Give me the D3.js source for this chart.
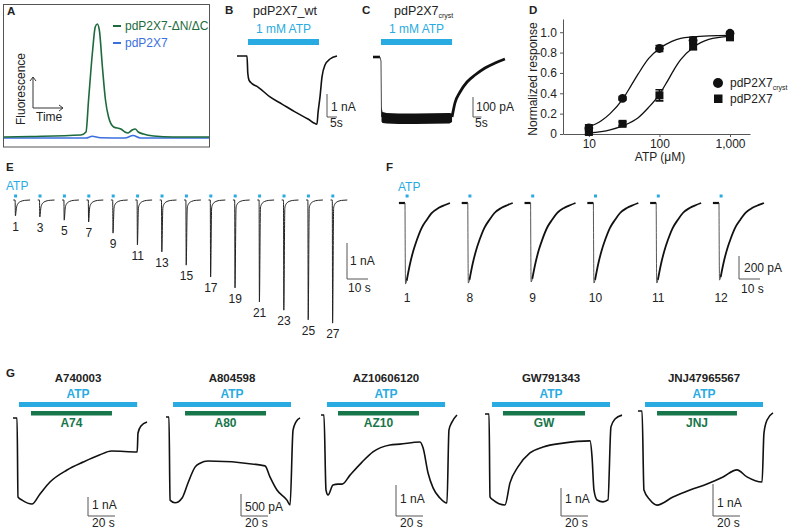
<!DOCTYPE html>
<html><head><meta charset="utf-8">
<script src="https://cdn.jsdelivr.net/npm/d3@7/dist/d3.min.js"></script>
<style>
body{margin:0;background:#fff}
svg{display:block}
text{font-family:"Liberation Sans",Arial,sans-serif;fill:#222}
</style></head>
<body><svg id="fig" width="788" height="529"></svg>
<script>
// ---------------- DATA ----------------
// Panel A (time in min, fluorescence a.u.)
const aTime  = [0,2.6,7.5,8,8.25,8.65,8.9,9.1,9.3,9.6,9.9,10.2,10.7,11.4,11.8,12.1,12.5,12.8,13.1,13.6,14.6,16.5,20];
const aGreen = [3,3.5,5,8,40,90,113,116,110,73,40,23,13,11,8,7,10,11,8,6,4,3,3];
const aBlueTime = [0,8,8.6,9.4,11.8,12.6,13.3,20];
const aBlue     = [2,2,3.7,2.3,2,4.5,2,2];
const aLegend = ["pdP2X7-\u0394N/\u0394C","pdP2X7"];

// Panel B (s, nA)
const bTime    = [0,5,5.4,6,7.5,10.5,16.5,22.5,29,35.5,40,40.5,41.5,42.5,44,46.5,50];
const bCurrent = [0,0,-0.75,-1.05,-1.2,-1.35,-1.78,-2.09,-2.43,-2.74,-2.96,-2.48,-1.78,-0.91,-0.39,-0.13,0];
const bATP = [5.5,41];

// Panel C (s, pA)
const cBaseT = [0,4.1];
const cBaseI = [0,0];
const cDropT = [4.1,4.7,5.0];
const cDropI = [0,-20,-300];
const cBandT     = [5.0,5.6,8,15,25,35,45,46.5];
const cBandUpper = [-250,-275,-280,-282,-282,-281,-280,-282];
const cBandLower = [-322,-330,-333,-335,-335,-334,-332,-325];
const cRecT = [46.5,48.2,51.2,55.3,60,65.9,71.8,77.6];
const cRecI = [-300,-230,-175,-125,-90,-55,-30,-10];
const cATP = [4.7,46.5];

// Panel D (uM, normalized)
const dConc = [10,30,100,300,1000];
const dCryst = [0.06,0.35,0.84,0.92,0.99];
const dCrystErr = [0.03,0.015,0.03,0.03,0.015];
const dWt = [0.02,0.10,0.38,0.86,0.95];
const dWtErr = [0.02,0.02,0.055,0.03,0.015];
const dFitConcCryst = [10,15,20,30,40,50,70,100,150,200,300,500,1000];
const dFitCryst     = [0.07,0.13,0.2,0.34,0.48,0.59,0.74,0.84,0.91,0.94,0.955,0.965,0.97];
const dFitConcWt = [10,20,30,50,70,100,130,170,200,300,500,1000];
const dFitWt     = [0.01,0.04,0.08,0.16,0.26,0.39,0.52,0.66,0.73,0.85,0.93,0.96];
const dYTicks = [0,0.2,0.4,0.6,0.8,1.0];
const dXTicks = [10,100,1000];

// Panel E (s, nA)
const eLabels = ["1","3","5","7","9","11","13","15","17","19","21","23","25","27"];
const eAmp = [0.44,0.47,0.56,0.61,0.92,1.25,1.44,1.81,2.14,2.44,2.83,3.06,3.33,3.42];
const eTailT = [1.5,2,2.6,3.5,4.5,6,8];
const eTailI = [-0.22,-0.12,-0.075,-0.04,-0.02,-0.008,0];

// Panel F (s, pA)
const fLabels = ["1","8","9","10","11","12"];
const fAmp = [704,696,687,696,696,670];
const fShapeT = [-2.9,0,0.25,0.8,2.4,3.97,5.6,7.9,10.3,12.7,15.9,19,21.4];
const fShapeV = [0,0,-1,-0.96,-0.75,-0.59,-0.46,-0.31,-0.21,-0.125,-0.0625,-0.025,0];

// Panel G (s, nA)
const gTitles = ["A740003","A804598","AZ10606120","GW791343","JNJ47965567"];
const gAntag  = ["A74","A80","AZ10","GW","JNJ"];
const gAtpOn  = [4.4,5.2,4.4,5.2,5.2];
const gAtpOff = [92,92.6,91.9,92.6,92.6];
const gAntOn  = [13.3,14.1,12.6,13.3,14.1];
const gAntOff = [73.3,74.1,72.6,74.1,73.3];
const gScaleNA = [1,0.5,1,1,1];
const gScaleText = ["1 nA","500 pA","1 nA","1 nA","1 nA"];
const g1T = [0,3,3.7,6.7,14,20,27.4,40,52,64,73,92,92.6,94.8,99.3];
const g1I = [0,0,-4.16,-4.32,-4.53,-4.0,-3.37,-2.74,-2.32,-1.95,-1.74,-1.79,-0.79,-0.42,-0.21];
const g2T = [0,2.2,3,6.7,11.9,16.3,21.5,25.2,31.1,73.3,77,82.2,89.6,91.9,94.1,96.3,99.3];
const g2I = [0,0,-1.89,-1.95,-1.84,-1.5,-1.14,-1.05,-1.0,-1.11,-1.36,-1.66,-1.89,-2.0,-0.3,-0.11,-0.02];
const g3T = [0,2.2,3.7,5.2,8.9,12.6,15.6,21.5,30.4,38.5,51.1,58.5,73.3,75.6,79.3,83,88.1,93.3,94.8,97,100.7];
const g3I = [0,0,-2.42,-2.58,-2.26,-2.23,-2.23,-1.94,-1.52,-1.19,-0.97,-0.94,-0.87,-1.06,-1.87,-2.35,-2.68,-2.84,-0.48,-0.23,0];
const g4T = [0,3,3.7,5.9,14.8,18.5,24.4,33.3,43,57.8,77.8,79.3,80.7,83,87.4,91.1,93.3,96.3,101.5];
const g4I = [0,0,-2.96,-3.07,-3.25,-2.46,-1.89,-1.39,-1.18,-1.04,-0.96,-1.54,-2.71,-3.07,-3.14,-3.07,-0.46,-0.18,-0.04];
const g5T = [0,3,4.4,8.9,14.1,25.9,38.5,51.1,63,73.3,80.7,91.9,93.3,95.6,100];
const g5I = [0,0,-2.47,-2.78,-2.94,-2.69,-2.47,-2.28,-2.06,-1.84,-2.06,-2.22,-0.69,-0.28,-0.06];

// ---------------- DRAWING ----------------
const BLUE="#29abe2", GREEN="#17764a", TXT="#222", FONT="'Liberation Sans',Arial,sans-serif";
const svg = d3.select("#fig");
const zip = (a,b)=>a.map((v,i)=>[v,b[i]]);

function txt(g,x,y,s,o={}){
  const t=g.append("text").attr("x",x).attr("y",y).text(s)
    .attr("font-size",o.size||12).attr("text-anchor",o.anchor||"start");
  if(o.bold) t.attr("font-weight","bold");
  if(o.fill) t.style("fill",o.fill);
  return t;
}
function scaleBar(g,x,yb,hLen,vLen,l1,l1x,l1y,l2,l2x,l2y){
  g.append("path").attr("d",`M${x},${yb-vLen}V${yb}H${x+hLen}`)
   .attr("fill","none").attr("stroke","#555").attr("stroke-width",1);
  txt(g,l1x,l1y,l1); txt(g,l2x,l2y,l2);
}

// panel letters
[["A",7,15],["B",225,14],["C",362,14],["D",529,14],["E",6,171],["F",386,171],["G",6,377]]
 .forEach(([s,x,y])=>txt(svg,x,y,s,{bold:true,size:11.5}).attr("font-weight",900));

// ---- Panel A ----
{
  const g=svg.append("g");
  g.append("rect").attr("x",3.5).attr("y",4.5).attr("width",206).attr("height",142.5)
    .attr("fill","none").attr("stroke","#555").attr("stroke-width",1);
  const x=d3.scaleLinear().domain([0,20]).range([4,209]);
  const y=d3.scaleLinear().domain([0,120]).range([140,20]);
  const ln=d3.line().x(d=>x(d[0])).y(d=>y(d[1])).curve(d3.curveMonotoneX);
  g.append("path").attr("d",ln(zip(aBlueTime,aBlue))).attr("fill","none").attr("stroke","#3b6fe0").attr("stroke-width",1.6);
  g.append("path").attr("d",ln(zip(aTime,aGreen))).attr("fill","none").attr("stroke","#1d6b3d").attr("stroke-width",1.6);
  // legend
  g.append("line").attr("x1",113).attr("x2",121).attr("y1",26).attr("y2",26).attr("stroke","#1d6b3d").attr("stroke-width",2);
  txt(g,125,30,aLegend[0],{fill:"#1d6b3d",size:12});
  g.append("line").attr("x1",113).attr("x2",121).attr("y1",43).attr("y2",43).attr("stroke","#3b6fe0").attr("stroke-width",2);
  txt(g,125,47,aLegend[1],{fill:"#3b6fe0",size:12});
  // arrows
  g.append("path").attr("d","M33,108V77M30,81L33,77L36,81M33,108H63M59,105L63,108L59,111")
    .attr("fill","none").attr("stroke","#333").attr("stroke-width",1);
  txt(g,36,121,"Time",{size:12});
  txt(g,0,0,"Fluorescence",{size:12,anchor:"middle"}).attr("transform","translate(25,89) rotate(-90)");
}

// ---- Panel B ----
{
  const g=svg.append("g");
  const x=d3.scaleLinear().domain([0,50]).range([237,337]);
  const y=d3.scaleLinear().domain([0,-1]).range([56,79]);
  txt(g,253,15,"pdP2X7_wt",{size:12.5});
  g.append("rect").attr("x",x(bATP[0])).attr("y",39).attr("width",x(bATP[1])-x(bATP[0])).attr("height",6).attr("fill",BLUE);
  txt(g,(x(bATP[0])+x(bATP[1]))/2,33,"1 mM ATP",{anchor:"middle",fill:BLUE});
  const ln=d3.line().x(d=>x(d[0])).y(d=>y(d[1])).curve(d3.curveMonotoneX);
  g.append("path").attr("d",ln(zip(bTime,bCurrent))).attr("fill","none").attr("stroke","#111").attr("stroke-width",1.6);
  scaleBar(g,327,117,x(5)-x(0),y(-1)-y(0),"1 nA",331,111,"5s",330,127);
}

// ---- Panel C ----
{
  const g=svg.append("g");
  const x=d3.scaleLinear().domain([0,10]).range([373,390]);
  const y=d3.scaleLinear().domain([0,-100]).range([57,77]);
  const t=txt(g,394,15,"pdP2X7",{size:12.5});
  t.append("tspan").text("cryst").attr("font-size",7).attr("dy",3);
  g.append("rect").attr("x",x(cATP[0])).attr("y",39).attr("width",x(cATP[1])-x(cATP[0])).attr("height",6).attr("fill",BLUE);
  txt(g,(x(cATP[0])+x(cATP[1]))/2,33,"1 mM ATP",{anchor:"middle",fill:BLUE});
  const ln=d3.line().x(d=>x(d[0])).y(d=>y(d[1]));
  g.append("path").attr("d",ln(zip(cBaseT,cBaseI))).attr("fill","none").attr("stroke","#111").attr("stroke-width",2.6);
  g.append("path").attr("d",ln(zip(cDropT,cDropI))).attr("fill","none").attr("stroke","#333").attr("stroke-width",0.9);
  const ar=d3.area().x(d=>x(d[0])).y0(d=>y(d[1])).y1(d=>y(d[2]));
  g.append("path").attr("d",ar(cBandT.map((v,i)=>[v,cBandUpper[i],cBandLower[i]]))).attr("fill","#111");
  g.append("path").attr("d",d3.line().x(d=>x(d[0])).y(d=>y(d[1])).curve(d3.curveMonotoneX)(zip(cRecT,cRecI)))
    .attr("fill","none").attr("stroke","#111").attr("stroke-width",2.8);
  scaleBar(g,473,117,x(5)-x(0),y(-100)-y(0),"100 pA",476,111,"5s",475,127);
}

// ---- Panel D ----
{
  const g=svg.append("g");
  const x=d3.scaleLog().domain([4.3,1920]).range([563,750]);
  const y=d3.scaleLinear().domain([0,1.13]).range([134,19]);
  const ya=g.append("g").attr("transform","translate(563,0)")
    .call(d3.axisLeft(y).tickValues(dYTicks).tickSize(3).tickSizeOuter(0).tickPadding(3)
      .tickFormat(d=>d===0?"0":d3.format(".1f")(d)));
  const xa=g.append("g").attr("transform","translate(0,134)")
    .call(d3.axisBottom(x).tickValues(dXTicks).tickSize(3).tickSizeOuter(0).tickPadding(2)
      .tickFormat(d3.format(",")));
  [ya,xa].forEach(a=>{a.selectAll("path,line").attr("stroke","#555");
    a.selectAll("text").attr("font-size",12).attr("font-family",FONT).style("fill",TXT);});
  txt(g,0,0,"Normalized response",{anchor:"middle"}).attr("transform","translate(537,79) rotate(-90)");
  txt(g,660,161,"ATP (\u03bcM)",{anchor:"middle"});
  const ln=d3.line().x(d=>x(d[0])).y(d=>y(d[1])).curve(d3.curveMonotoneX);
  g.append("path").attr("d",ln(zip(dFitConcCryst,dFitCryst))).attr("fill","none").attr("stroke","#111").attr("stroke-width",1.3);
  g.append("path").attr("d",ln(zip(dFitConcWt,dFitWt))).attr("fill","none").attr("stroke","#111").attr("stroke-width",1.3);
  function err(vals,errs){
    dConc.forEach((c,i)=>{
      const cx=x(c), y1=y(vals[i]+errs[i]), y2=y(vals[i]-errs[i]);
      g.append("path").attr("d",`M${cx},${y1}V${y2}M${cx-4},${y1}H${cx+4}M${cx-4},${y2}H${cx+4}`)
        .attr("stroke","#111").attr("stroke-width",1.6).attr("fill","none");
    });
  }
  err(dWt,dWtErr); err(dCryst,dCrystErr);
  dConc.forEach((c,i)=>{
    g.append("rect").attr("x",x(c)-4).attr("y",y(dWt[i])-4).attr("width",8).attr("height",8).attr("fill","#111");
    g.append("circle").attr("cx",x(c)).attr("cy",y(dCryst[i])).attr("r",4.4).attr("fill","#111");
  });
  g.append("circle").attr("cx",718).attr("cy",83).attr("r",5).attr("fill","#111");
  const lt=txt(g,730,87,"pdP2X7",{size:12}); lt.append("tspan").text("cryst").attr("font-size",7).attr("dy",3);
  g.append("rect").attr("x",714).attr("y",94.5).attr("width",8.5).attr("height",8.5).attr("fill","#111");
  txt(g,730,103,"pdP2X7",{size:12});
}

// ---- Panel E ----
{
  const g=svg.append("g");
  const x=d3.scaleLinear().domain([0,10]).range([0,21]);
  const y=d3.scaleLinear().domain([0,-1]).range([200,236]);
  txt(g,6,190,"ATP",{fill:BLUE});
  const ln=d3.line().x(d=>x(d[0])).y(d=>y(d[1])).curve(d3.curveMonotoneX);
  eAmp.forEach((A,i)=>{
    const x0=13.3+i*24.4;
    const pts=[[0,0],[0.85,0],[1.0,-A]].concat(zip(eTailT,eTailI));
    const gg=g.append("g").attr("transform",`translate(${x0},0)`);
    gg.append("path").attr("d",ln(pts)).attr("fill","none").attr("stroke","#222").attr("stroke-width",1);
    gg.append("rect").attr("x",x(1.1)-1.5).attr("y",194.5).attr("width",3).attr("height",3).attr("fill",BLUE);
    txt(gg,x(1.1),y(-A)+15,eLabels[i],{anchor:"middle"});
  });
  scaleBar(g,347,279,x(10)-x(0),y(-1)-y(0),"1 nA",350,265,"10 s",348,292);
}

// ---- Panel F ----
{
  const g=svg.append("g");
  const x=d3.scaleLinear().domain([0,10]).range([0,21]);
  const y=d3.scaleLinear().domain([0,-200]).range([203,226]);
  txt(g,398,191,"ATP",{fill:BLUE});
  const ln=d3.line().x(d=>x(d[0])).y(d=>y(d[1])).curve(d3.curveMonotoneX);
  fAmp.forEach((A,i)=>{
    const x0=405+i*62.8;
    const pts=fShapeT.map((t,k)=>[t,fShapeV[k]*A]);
    const gg=g.append("g").attr("transform",`translate(${x0},0)`);
    gg.append("path").attr("d",ln(pts.slice(0,2))).attr("fill","none").attr("stroke","#111").attr("stroke-width",2.2);
    gg.append("path").attr("d",ln(pts.slice(1,4))).attr("fill","none").attr("stroke","#444").attr("stroke-width",0.9);
    gg.append("path").attr("d",ln(pts.slice(3))).attr("fill","none").attr("stroke","#111").attr("stroke-width",1.8);
    gg.append("rect").attr("x",x(1)-1.5).attr("y",194.5).attr("width",3).attr("height",3).attr("fill",BLUE);
    txt(gg,x(1),302,fLabels[i],{anchor:"middle"});
  });
  scaleBar(g,739,279,x(10)-x(0),y(-200)-y(0),"200 pA",744,272,"10 s",741,293);
}

// ---- Panel G ----
{
  const gT=[g1T,g2T,g3T,g4T,g5T], gI=[g1I,g2I,g3I,g4I,g5I];
  const gX0=[13,166,321,485,638], gBase=[418,417,415,414,411], gPx=[19,44,31,28,32];
  const gBarX=[88,241,396,561,713], gLabY=[509,511,503,503,507];
  gTitles.forEach((title,i)=>{
    const g=svg.append("g");
    const x=d3.scaleLinear().domain([0,20]).range([gX0[i],gX0[i]+27]);
    const y=d3.scaleLinear().domain([0,-1]).range([gBase[i],gBase[i]+gPx[i]]);
    const cx=(x(gAtpOn[i])+x(gAtpOff[i]))/2;
    txt(g,cx,382,title,{anchor:"middle",bold:true,size:11.5});
    txt(g,cx,398,"ATP",{anchor:"middle",bold:true,fill:BLUE,size:12});
    g.append("rect").attr("x",x(gAtpOn[i])).attr("y",402).attr("width",x(gAtpOff[i])-x(gAtpOn[i])).attr("height",5).attr("fill",BLUE);
    g.append("rect").attr("x",x(gAntOn[i])).attr("y",411).attr("width",x(gAntOff[i])-x(gAntOn[i])).attr("height",4.5).attr("fill",GREEN);
    txt(g,(x(gAntOn[i])+x(gAntOff[i]))/2,427,gAntag[i],{anchor:"middle",bold:true,fill:GREEN,size:12});
    const ln=d3.line().x(d=>x(d[0])).y(d=>y(d[1])).curve(d3.curveMonotoneX);
    g.append("path").attr("d",ln(zip(gT[i],gI[i]))).attr("fill","none").attr("stroke","#111").attr("stroke-width",1.6);
    scaleBar(g,gBarX[i],516,x(20)-x(0),y(-gScaleNA[i])-y(0),gScaleText[i],gBarX[i]+4,gLabY[i],"20 s",gBarX[i]+4,527);
  });
}
</script></body></html>
